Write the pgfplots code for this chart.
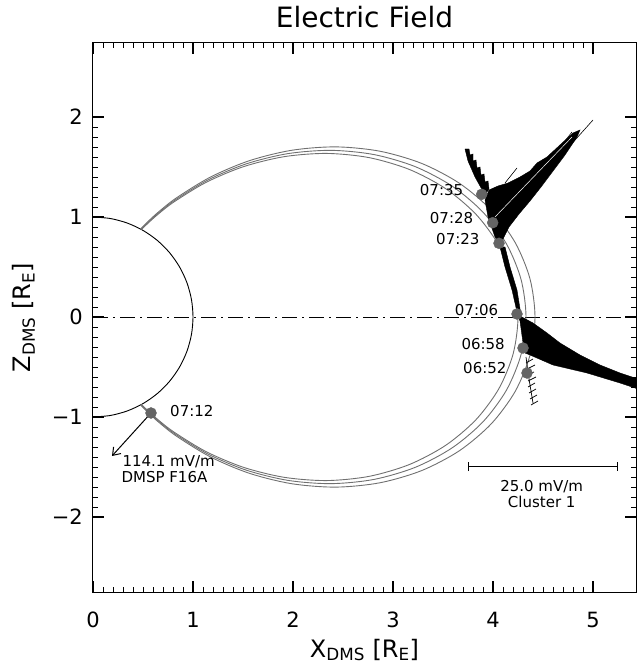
\documentclass[border=0pt]{standalone}
\usepackage{fontspec}
\setmainfont{DejaVu Sans}
\usepackage{pgfplots}
\pgfplotsset{compat=1.18}
\usetikzlibrary{arrows.meta}
\definecolor{fline}{RGB}{112,112,112}
\definecolor{tdot}{RGB}{100,100,100}
\newcommand{\fs}[1]{\fontsize{#1}{#1}\selectfont}
\begin{document}
\begin{tikzpicture}
\begin{axis}[
  scale only axis,
  width=543pt, height=549pt,
  xmin=0, xmax=5.43, ymin=-2.75, ymax=2.74,
  xtick={0,1,2,3,4,5}, ytick={-2,-1,0,1,2},
  xticklabels={0,1,2,3,4,5},
  yticklabels={−2,−1,0,1,2},
  minor x tick num=9, minor y tick num=9,
  xtick pos=both, ytick pos=both,
  tick align=inside,
  major tick length=11pt, minor tick length=5pt,
  every tick/.append style={black, line width=0.9pt},
  every major tick/.append style={line width=1.4pt},
  axis line style={line width=1pt},
  xticklabel style={font=\fs{21}, anchor=base, inner sep=0pt, yshift=-35pt},
  yticklabel style={font=\fs{21}, anchor=east, inner sep=0pt, xshift=-10pt},
  unbounded coords=jump,
]
% Earth
\addplot[black, line width=0.9pt, smooth] coordinates {
  (0,1) (0.1736,0.9848) (0.3420,0.9397) (0.5,0.8660) (0.6428,0.7660)
  (0.7660,0.6428) (0.8660,0.5) (0.9397,0.3420) (0.9848,0.1736) (1,0)
  (0.9848,-0.1736) (0.9397,-0.3420) (0.8660,-0.5) (0.7660,-0.6428)
  (0.6428,-0.7660) (0.5,-0.8660) (0.3420,-0.9397) (0.1736,-0.9848) (0,-1)
};
% equator
\addplot[black, line width=0.8pt, dash pattern=on 15pt off 5pt on 2pt off 5pt]
  coordinates {(0,0) (5.43,0)};
% field lines
\addplot[fline, line width=0.9pt, smooth] coordinates {
  (0.4851,0.8745) (0.5313,0.9202) (0.6324,1.0121) (0.8020,1.1453) (1.1288,1.3452)
  (1.5026,1.5026) (1.9105,1.6031) (2.3361,1.6357) (2.7605,1.5938) (3.1638,1.4753)
  (3.5265,1.2835) (3.8302,1.0263) (4.0593,0.7157) (4.2016,0.3676) (4.25,0)
  (4.2016,-0.3676) (4.0593,-0.7157) (3.8302,-1.0263) (3.5265,-1.2835) (3.1638,-1.4753)
  (2.7605,-1.5938) (2.3361,-1.6357) (1.9105,-1.6031) (1.5026,-1.5026) (1.1288,-1.3452)
  (0.8020,-1.1453) (0.6324,-1.0121) (0.5313,-0.9202) (0.4851,-0.8745)
};
\addplot[fline, line width=0.9pt, smooth] coordinates {
  (0.4806,0.8770) (0.5413,0.9375) (0.6443,1.0311) (0.8171,1.1669) (1.1500,1.3705)
  (1.5309,1.5309) (1.9465,1.6333) (2.3800,1.6665) (2.8124,1.6238) (3.2234,1.5031)
  (3.5929,1.3077) (3.9023,1.0456) (4.1357,0.7292) (4.2807,0.3745) (4.33,0)
  (4.2807,-0.3745) (4.1357,-0.7292) (3.9023,-1.0456) (3.5929,-1.3077) (3.2234,-1.5031)
  (2.8124,-1.6238) (2.3800,-1.6665) (1.9465,-1.6333) (1.5309,-1.5309) (1.1500,-1.3705)
  (0.8171,-1.1669) (0.6443,-1.0311) (0.5413,-0.9375) (0.4806,-0.8770)
};
\addplot[fline, line width=0.9pt, smooth] coordinates {
  (0.4757,0.8796) (0.5525,0.9570) (0.6577,1.0526) (0.8341,1.1911) (1.1739,1.3990)
  (1.5627,1.5627) (1.9869,1.6672) (2.4295,1.7012) (2.8709,1.6575) (3.2904,1.5344)
  (3.6676,1.3349) (3.9834,1.0673) (4.2216,0.7444) (4.3697,0.3823) (4.42,0)
  (4.3697,-0.3823) (4.2216,-0.7444) (3.9834,-1.0673) (3.6676,-1.3349) (3.2904,-1.5344)
  (2.8709,-1.6575) (2.4295,-1.7012) (1.9869,-1.6672) (1.5627,-1.5627) (1.1739,-1.3990)
  (0.8341,-1.1911) (0.6577,-1.0526) (0.5525,-0.9570) (0.4757,-0.8796)
};
% Cluster 1 electric field vectors (envelopes)
\addplot[black, fill=black, line width=0.4pt] coordinates {
  (4.08,0.70) (4.02,0.80) (3.95,1.00) (3.92,1.17) (3.96,1.27) (4.05,1.31)
  (4.15,1.34) (4.27,1.40) (4.37,1.46) (4.44,1.54) (4.54,1.60) (4.67,1.72)
  (4.80,1.84) (4.87,1.87) (4.84,1.80) (4.72,1.62) (4.60,1.46) (4.48,1.30)
  (4.37,1.16) (4.26,1.03) (4.16,0.90) (4.10,0.78) (4.08,0.70)
};
\addplot[black, fill=black, line width=0.4pt] coordinates {
  (3.72,1.68) (3.75,1.56) (3.82,1.40) (3.92,1.22) (3.96,1.28) (3.95,1.36)
  (3.92,1.35) (3.91,1.43) (3.88,1.42) (3.87,1.50) (3.84,1.49) (3.83,1.57)
  (3.80,1.56) (3.80,1.63) (3.77,1.62) (3.76,1.68) (3.72,1.68)
};
\addplot[black, fill=black, line width=0.4pt] coordinates {
  (4.07,0.70) (4.12,0.50) (4.19,0.27) (4.24,0.05) (4.28,0.02)
  (4.24,0.27) (4.17,0.50) (4.12,0.70) (4.07,0.70)
};
\addplot[black, fill=black, line width=0.4pt] coordinates {
  (4.24,0.03) (4.27,0.01) (4.40,-0.06) (4.54,-0.16) (4.67,-0.26) (4.87,-0.38)
  (5.07,-0.48) (5.27,-0.56) (5.45,-0.62) (5.45,-0.72) (5.27,-0.66) (4.94,-0.56)
  (4.60,-0.48) (4.37,-0.38) (4.32,-0.36) (4.30,-0.26) (4.27,-0.04) (4.24,0.03)
};
% short vectors below 06:52
\addplot[black, line width=0.7pt] coordinates {
  (4.33,-0.40) (4.36,-0.62) (4.40,-0.86) (0,nan)
  (4.33,-0.46) (4.40,-0.42) (0,nan)
  (4.34,-0.52) (4.42,-0.48) (0,nan)
  (4.34,-0.58) (4.41,-0.55) (0,nan)
  (4.35,-0.64) (4.43,-0.60) (0,nan)
  (4.35,-0.70) (4.42,-0.66) (0,nan)
  (4.36,-0.76) (4.43,-0.72) (0,nan)
  (4.37,-0.82) (4.44,-0.78) (0,nan)
  (4.38,-0.88) (4.45,-0.84)
};
\addplot[black, line width=0.6pt] coordinates {(4.40,1.30) (5.00,1.97)};
\addplot[black, line width=0.6pt] coordinates {(4.40,1.35) (4.79,1.85)};
\addplot[black, line width=0.6pt] coordinates {(4.12,1.34) (4.24,1.49)};
\addplot[white, line width=0.5pt] coordinates {(4.02,1.00) (4.79,1.80)};
% DMSP vector
\addplot[black, line width=1pt, -{Straight Barb[length=7pt,width=10pt]}]
  coordinates {(0.58,-0.96) (0.19,-1.39)};
% scale bar
\addplot[black, line width=1pt, {Bar[width=9pt]}-{Bar[width=9pt]}]
  coordinates {(3.747,-1.497) (5.247,-1.497)};
% spacecraft positions
\addplot[only marks, mark=*, mark size=5.5pt, color=tdot] coordinates {
  (3.887,1.227) (3.997,0.943) (4.06,0.737) (4.24,0.03) (4.30,-0.31) (4.34,-0.56)
  (0.58,-0.96)
};
\node[anchor=east, font=\fs{15}] at (axis cs:3.737,1.27) {07:35};
\node[anchor=east, font=\fs{15}] at (axis cs:3.837,0.987) {07:28};
\node[anchor=east, font=\fs{15}] at (axis cs:3.90,0.78) {07:23};
\node[anchor=east, font=\fs{15}] at (axis cs:4.087,0.07) {07:06};
\node[anchor=east, font=\fs{15}] at (axis cs:4.153,-0.275) {06:58};
\node[anchor=east, font=\fs{15}] at (axis cs:4.17,-0.51) {06:52};
\node[anchor=west, font=\fs{15}] at (axis cs:0.737,-0.94) {07:12};
\node[anchor=west, font=\fs{15}] at (axis cs:0.26,-1.447) {114.1 mV/m};
\node[anchor=west, font=\fs{15}] at (axis cs:0.25,-1.60) {DMSP F16A};
\node[font=\fs{15}] at (axis cs:4.487,-1.697) {25.0 mV/m};
\node[font=\fs{15}] at (axis cs:4.487,-1.853) {Cluster 1};
\end{axis}
\node[anchor=base] at ([yshift=15pt]current axis.north) {\fs{28}Electric Field};
\node[anchor=base] at ([yshift=-65pt]current axis.south) {\fs{24}X\textsubscript{DMS} [R\textsubscript{E}]};
\node[anchor=base, rotate=90] at ([xshift=-62pt]current axis.west) {\fs{24}Z\textsubscript{DMS} [R\textsubscript{E}]};
\pgfresetboundingbox
\path ([shift={(-93pt,-74pt)}]current axis.south west) rectangle ([shift={(4pt,43pt)}]current axis.north east);
\end{tikzpicture}
\end{document}
